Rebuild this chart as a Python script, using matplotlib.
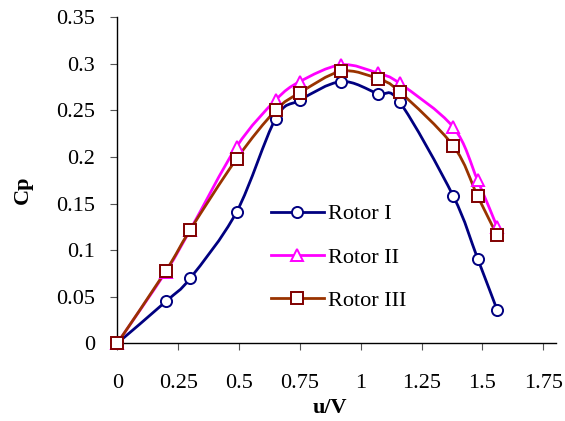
"""
Cp vs u/V for three rotors, redrawn with smoothed lines.
"""
import numpy as np
import matplotlib
matplotlib.use("Agg")
import matplotlib.pyplot as plt
from matplotlib.path import Path
from matplotlib.patches import PathPatch
from matplotlib.lines import Line2D

plt.rcParams["font.family"] = ["Liberation Serif", "DejaVu Serif"]

# --- data ---
x_rotor1 = [0, 0.20, 0.30, 0.49, 0.65, 0.75, 0.92, 1.07, 1.16, 1.38, 1.48, 1.56]
cp_rotor1 = [0, 0.045, 0.070, 0.141, 0.241, 0.261, 0.281, 0.268, 0.259, 0.158, 0.091, 0.036]

x_rotor2 = [0, 0.20, 0.30, 0.49, 0.65, 0.75, 0.92, 1.07, 1.16, 1.38, 1.48, 1.56]
cp_rotor2 = [0, 0.077, 0.122, 0.211, 0.261, 0.281, 0.299, 0.290, 0.279, 0.232, 0.175, 0.125]

x_rotor3 = [0, 0.20, 0.30, 0.49, 0.65, 0.75, 0.92, 1.07, 1.16, 1.38, 1.48, 1.56]
cp_rotor3 = [0, 0.078, 0.122, 0.198, 0.250, 0.269, 0.292, 0.284, 0.270, 0.212, 0.158, 0.116]

labels = ["Rotor I", "Rotor II", "Rotor III"]
x_ticks = [0, 0.25, 0.5, 0.75, 1, 1.25, 1.5, 1.75]
x_tick_labels = ["0", "0.25", "0.5", "0.75", "1", "1.25", "1.5", "1.75"]
y_ticks = [0, 0.05, 0.1, 0.15, 0.2, 0.25, 0.3, 0.35]
y_tick_labels = ["0", "0.05", "0.1", "0.15", "0.2", "0.25", "0.3", "0.35"]

STYLES = [
    {"line": "#000080", "edge": "#000080", "marker": "o"},
    {"line": "#FF00FF", "edge": "#FF00FF", "marker": "^"},
    {"line": "#993300", "edge": "#800000", "marker": "s"},
]


def smooth_path(xs, ys):
    """Excel-like smoothing: Catmull-Rom segments as cubic Beziers."""
    pts = np.column_stack([xs, ys]).astype(float)
    n = len(pts)
    verts = [pts[0]]
    codes = [Path.MOVETO]
    for i in range(n - 1):
        p0 = pts[i - 1] if i > 0 else pts[i]
        p1 = pts[i]
        p2 = pts[i + 1]
        p3 = pts[i + 2] if i + 2 < n else pts[i + 1]
        c1 = p1 + (p2 - p0) / 6.0
        c2 = p2 - (p3 - p1) / 6.0
        verts += [c1, c2, p2]
        codes += [Path.CURVE4] * 3
    return Path(verts, codes)


fig = plt.figure(figsize=(5.65, 4.21), dpi=100)
ax = fig.add_axes([0.2076, 0.1846, 0.7756, 0.7743])

series = [(x_rotor1, cp_rotor1), (x_rotor2, cp_rotor2), (x_rotor3, cp_rotor3)]
handles = []
for (xs, ys), st, lab in zip(series, STYLES, labels):
    ax.add_patch(PathPatch(smooth_path(xs, ys), fill=False, edgecolor=st["line"],
                           lw=2.0, zorder=2))
    ax.plot(xs, ys, linestyle="none", marker=st["marker"], markersize=8,
            markerfacecolor="white", markeredgecolor=st["edge"], markeredgewidth=1.4,
            zorder=3, clip_on=False)
    handles.append(Line2D([], [], color=st["line"], lw=2.0, marker=st["marker"],
                          markersize=8, markerfacecolor="white",
                          markeredgecolor=st["edge"], markeredgewidth=1.4, label=lab))

ax.set_xlim(0, 1.8)
ax.set_ylim(0, 0.35)
ax.set_xticks(x_ticks)
ax.set_xticklabels(x_tick_labels)
ax.set_yticks(y_ticks)
ax.set_yticklabels(y_tick_labels)
ax.tick_params(axis="both", direction="out", length=5, width=0.8, color="#555555",
               labelsize=16, labelcolor="black")
ax.tick_params(axis="y", pad=11)
ax.tick_params(axis="x", pad=17)
ax.spines[["top", "right"]].set_visible(False)
for s in ("left", "bottom"):
    ax.spines[s].set_linewidth(1.0)
    ax.spines[s].set_color("black")

fig.text(0.040, 0.55, "Cp", rotation=90, ha="center", va="center",
         fontsize=16, fontweight="bold")
fig.text(0.584, 0.030, "u/V", ha="center", va="center", fontsize=16, fontweight="bold")

ax.legend(handles=handles, loc="upper left", bbox_to_anchor=(0.350, 0.428),
          frameon=False, fontsize=16, handlelength=2.4, handletextpad=0.2,
          labelspacing=1.02, borderpad=0, borderaxespad=0)

fig.savefig("out.png", dpi=100)
